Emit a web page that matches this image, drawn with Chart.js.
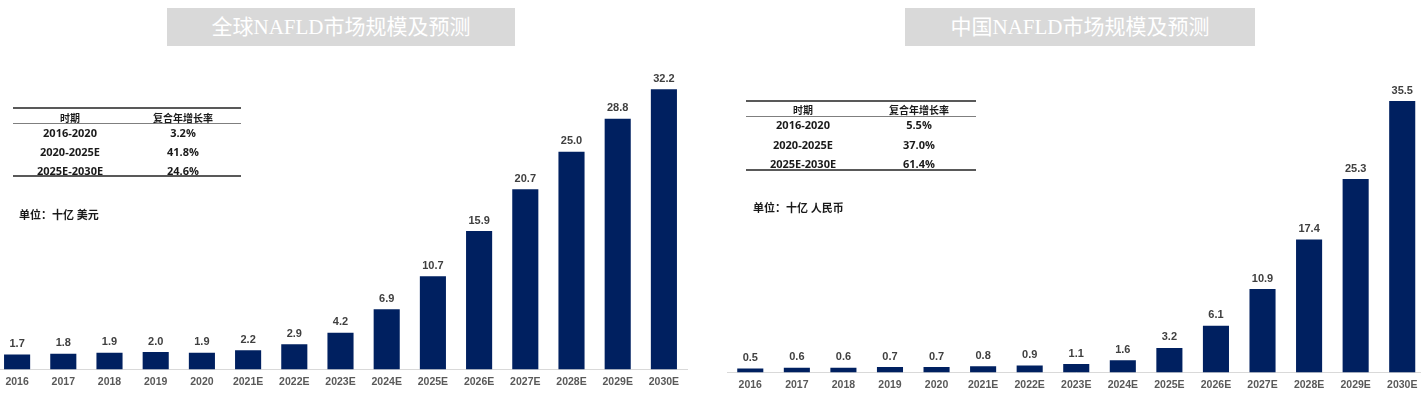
<!DOCTYPE html>
<html>
<head>
<meta charset="utf-8">
<script src="https://cdn.jsdelivr.net/npm/chart.js@4.4.1/dist/chart.umd.min.js"></script>
<style>
  html, body { margin: 0; padding: 0; background: #fff; }
  body { width: 1421px; height: 396px; position: relative; overflow: hidden; }
  .box { position: absolute; }
  .title {
    position: absolute; top: 8px; height: 38px; line-height: 38px;
    background: #d9d9d9; color: #fff; text-align: center;
    font-family: "Liberation Serif", "Noto Sans CJK SC", serif; font-size: 21px;
  }
  .cell {
    position: absolute; transform: translate(-50%, -50%); white-space: nowrap;
    font-family: "Open Sans", "Noto Sans CJK SC", sans-serif; font-weight: 700; color: #1a1a1a;
  }
  .rule { position: absolute; }
  .unit {
    position: absolute; transform: translateY(-50%); white-space: nowrap;
    font-family: "Open Sans", "Noto Sans CJK SC", sans-serif; font-weight: 700; font-size: 11px; color: #1a1a1a;
  }
</style>
</head>
<body>
<div class="title" style="left:167px; width:348px;" id="t1"></div>
<div class="title" style="left:905px; width:350px;" id="t2"></div>
<div class="box" style="left:-6px; top:0; width:700px; height:396px;"><canvas id="c1"></canvas></div>
<div class="box" style="left:727px; top:3px; width:700px; height:396px;"><canvas id="c2"></canvas></div>
<div id="tab1"></div>
<div id="tab2"></div>
<script>
// 年份（横轴）
const years = ['2016', '2017', '2018', '2019', '2020', '2021E', '2022E', '2023E', '2024E', '2025E', '2026E', '2027E', '2028E', '2029E', '2030E'];
// 全球市场规模，十亿美元
const globalValues = [1.7, 1.8, 1.9, 2.0, 1.9, 2.2, 2.9, 4.2, 6.9, 10.7, 15.9, 20.7, 25.0, 28.8, 32.2];
// 中国市场规模，十亿人民币
const chinaValues = [0.5, 0.6, 0.6, 0.7, 0.7, 0.8, 0.9, 1.1, 1.6, 3.2, 6.1, 10.9, 17.4, 25.3, 35.5];

const periods = ['2016-2020', '2020-2025E', '2025E-2030E'];
const globalCagr = ['3.2%', '41.8%', '24.6%'];
const chinaCagr = ['5.5%', '37.0%', '61.4%'];
const tableHead = ['时期', '复合年增长率'];

const globalTitle = '全球NAFLD市场规模及预测';
const chinaTitle = '中国NAFLD市场规模及预测';
const globalUnit = '单位：十亿 美元';
const chinaUnit = '单位：十亿 人民币';

document.getElementById('t1').textContent = globalTitle;
document.getElementById('t2').textContent = chinaTitle;

// 柱顶数值标签
const valueLabels = {
    id: 'valueLabels',
    afterDatasetsDraw(chart) {
        const ctx = chart.ctx;
        const meta = chart.getDatasetMeta(0);
        const data = chart.data.datasets[0].data;
        ctx.save();
        ctx.font = 'bold 11px "Liberation Sans", Arial, sans-serif';
        ctx.fillStyle = '#404040';
        ctx.textAlign = 'center';
        ctx.textBaseline = 'bottom';
        meta.data.forEach((bar, i) => {
            ctx.fillText(data[i].toFixed(1), bar.x, bar.y - 5);
        });
        ctx.restore();
    }
};

function makeChart(id, values, yMax, barPct, padRight) {
    return new Chart(document.getElementById(id), {
        type: 'bar',
        data: {
            labels: years,
            datasets: [{
                data: values,
                backgroundColor: '#002060',
                borderWidth: 0,
                categoryPercentage: 1.0,
                barPercentage: barPct
            }]
        },
        options: {
            responsive: true,
            maintainAspectRatio: false,
            animation: false,
            layout: { padding: { top: 30, left: 0, right: padRight, bottom: 2 } },
            plugins: { legend: { display: false }, tooltip: { enabled: false } },
            scales: {
                x: {
                    grid: { display: false, drawTicks: false },
                    border: { display: true, color: '#d9d9d9', width: 1 },
                    ticks: {
                        color: '#595959',
                        padding: 6,
                        maxRotation: 0,
                        autoSkip: false,
                        font: { family: '"Liberation Sans", Arial, sans-serif', size: 10.5, weight: 'bold' }
                    }
                },
                y: { display: false, min: 0, max: yMax }
            }
        },
        plugins: [valueLabels]
    });
}

makeChart('c1', globalValues, 39, 0.565, 7);
makeChart('c2', chinaValues, 44.4, 0.56, 1.5);

// 复合年增长率表格
function buildTable(elId, pos, rates, unit) {
    const el = document.getElementById(elId);
    const w = pos.x2 - pos.x1;
    const rules = [[pos.top, 2, '#595959'], [pos.headLine, 1, '#7f7f7f'], [pos.bottom, 2, '#595959']];
    rules.forEach(r => {
        const d = document.createElement('div');
        d.className = 'rule';
        d.style.cssText = `left:${pos.x1}px;top:${r[0] - r[1] / 2}px;width:${w}px;height:${r[1]}px;background:${r[2]};`;
        el.appendChild(d);
    });
    const addCell = (txt, x, y, size) => {
        const d = document.createElement('div');
        d.className = 'cell';
        d.style.cssText = `left:${x}px;top:${y}px;font-size:${size}px;`;
        d.textContent = txt;
        el.appendChild(d);
    };
    addCell(tableHead[0], pos.c1, pos.headY, 10);
    addCell(tableHead[1], pos.c2, pos.headY, 10);
    periods.forEach((p, i) => {
        addCell(p, pos.c1, pos.rowY[i], 11);
        addCell(rates[i], pos.c2, pos.rowY[i], 11);
    });
    const u = document.createElement('div');
    u.className = 'unit';
    u.style.cssText = `left:${pos.ux}px;top:${pos.uy}px;`;
    u.textContent = unit;
    el.appendChild(u);
}

buildTable('tab1', { x1: 13, x2: 241, top: 108, headLine: 123.5, bottom: 176, headY: 116.5, rowY: [132, 151, 170], c1: 70, c2: 183, ux: 19, uy: 214 }, globalCagr, globalUnit);
buildTable('tab2', { x1: 746, x2: 976, top: 100.5, headLine: 116, bottom: 170, headY: 108.5, rowY: [124, 143.5, 162.5], c1: 803, c2: 919, ux: 753, uy: 207 }, chinaCagr, chinaUnit);
</script>
</body>
</html>
